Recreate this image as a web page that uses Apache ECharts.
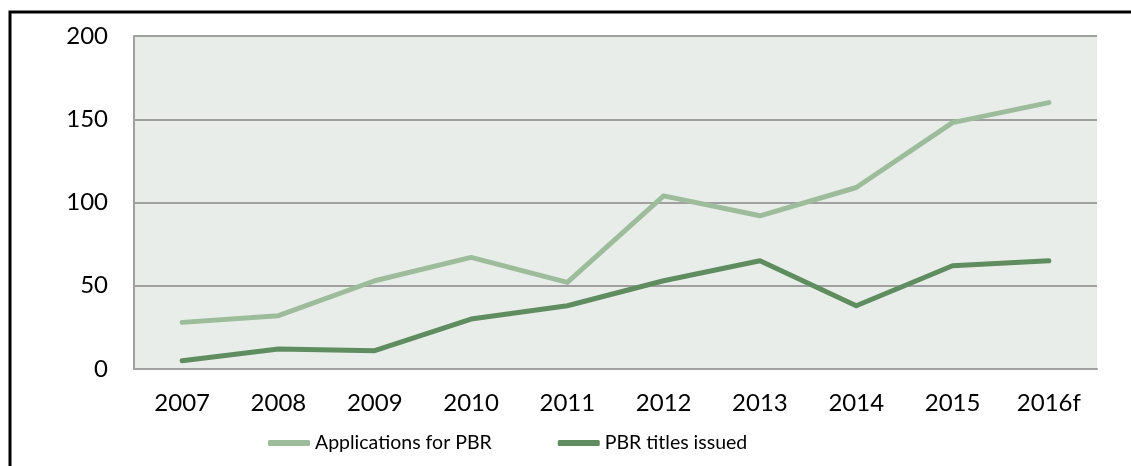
<!DOCTYPE html>
<html>
<head>
<meta charset="utf-8">
<script src="https://cdn.jsdelivr.net/npm/echarts@6/dist/echarts.min.js"></script>
<style>
  html, body { margin: 0; padding: 0; background: #fff; }
  #chart { width: 1131px; height: 466px; }
</style>
</head>
<body>
<div id="chart"></div>
<script>
const years = ['2007', '2008', '2009', '2010', '2011', '2012', '2013', '2014', '2015', '2016f'];
const applications = [28, 32, 53, 67, 52, 104, 92, 109, 148, 160];
const titlesIssued = [5, 12, 11, 30, 38, 53, 65, 38, 62, 65];

const chart = echarts.init(document.getElementById('chart'));
const font = 'Lato, "Open Sans", sans-serif';

chart.setOption({
    animation: false,
    textStyle: { fontFamily: font },
    grid: {
        left: 134, right: 34, top: 36, bottom: 97,
        show: true,
        backgroundColor: '#e9edea',
        borderWidth: 0
    },
    legend: {
        left: 263, bottom: 8,
        itemWidth: 42, itemHeight: 6,
        itemGap: 66,
        icon: 'roundRect',
        textStyle: { fontSize: 19.5, color: '#000', fontFamily: font },
        data: ['Applications for PBR', 'PBR titles issued']
    },
    xAxis: {
        type: 'category',
        data: years,
        boundaryGap: true,
        axisLine: { lineStyle: { color: '#a0a0a0', width: 2 } },
        axisTick: { show: false },
        axisLabel: { fontSize: 24, color: '#000', margin: 22, fontFamily: font }
    },
    yAxis: {
        type: 'value',
        min: 0, max: 200, interval: 50,
        axisLine: { show: true, lineStyle: { color: '#a0a0a0', width: 2 } },
        axisTick: { show: false },
        axisLabel: { fontSize: 24, color: '#000', margin: 26, fontFamily: font },
        splitLine: { lineStyle: { color: '#a0a0a0', width: 2 } }
    },
    series: [
        {
            name: 'Applications for PBR',
            type: 'line',
            data: applications,
            symbol: 'none',
            color: '#9cbc9c',
            lineStyle: { width: 5, cap: 'round', join: 'round' }
        },
        {
            name: 'PBR titles issued',
            type: 'line',
            data: titlesIssued,
            symbol: 'none',
            color: '#5f8d60',
            lineStyle: { width: 5, cap: 'round', join: 'round' }
        }
    ],
    graphic: [
        {
            type: 'polyline',
            shape: { points: [[10, 466], [10, 12], [1131, 12]] },
            style: { stroke: '#000', lineWidth: 3, fill: null }
        }
    ]
});
</script>
</body>
</html>
